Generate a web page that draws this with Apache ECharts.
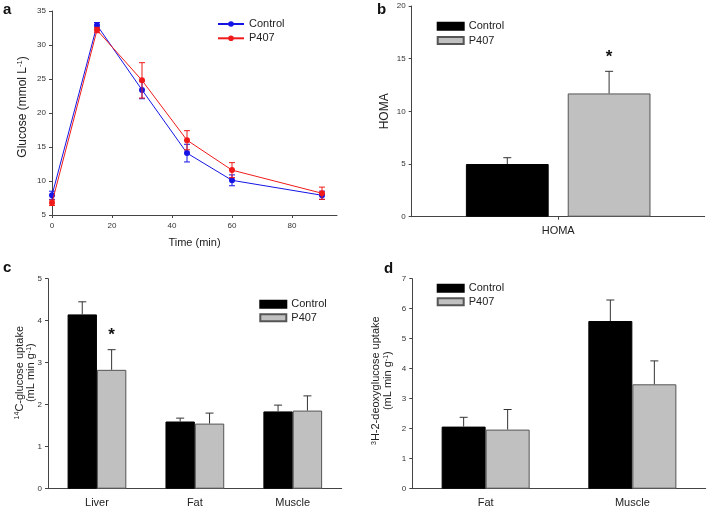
<!DOCTYPE html>
<html><head><meta charset="utf-8">
<script src="https://cdn.jsdelivr.net/npm/echarts@6/dist/echarts.min.js"></script>
<style>body{margin:0;background:#fff;overflow:hidden}.p{position:absolute}</style>
</head><body>
<div id="pa" class="p" style="left:0;top:0;width:354px;height:256px"></div>
<div id="pb" class="p" style="left:354px;top:0;width:355px;height:256px"></div>
<div id="pc" class="p" style="left:0;top:256px;width:354px;height:256px"></div>
<div id="pd" class="p" style="left:354px;top:256px;width:355px;height:256px"></div>
<script>
// ---- data ----
const timePoints = [0, 15, 30, 45, 60, 90];
const timeTicks = [0, 20, 40, 60, 80];
const glucoseControl = [7.9, 32.9, 23.4, 14.1, 10.1, 7.9];
const glucoseControlErr = [0.6, 0.4, 1.3, 1.3, 0.8, 0.6];
const glucoseP407 = [6.8, 32.2, 24.8, 16.0, 11.6, 8.2];
const glucoseP407Err = [0.4, 0.4, 2.6, 1.4, 1.1, 0.9];

const homaCategories = ['HOMA'];
const homaControl = [5.0];
const homaControlErr = [0.6];
const homaP407 = [11.7];
const homaP407Err = [2.1];
const homaStar = [true];

const c14Categories = ['Liver', 'Fat', 'Muscle'];
const c14Control = [4.15, 1.6, 1.84];
const c14ControlErr = [0.30, 0.08, 0.15];
const c14P407 = [2.83, 1.55, 1.86];
const c14P407Err = [0.48, 0.25, 0.35];
const c14Star = [true, false, false];

const dgCategories = ['Fat', 'Muscle'];
const dgControl = [2.07, 5.59];
const dgControlErr = [0.31, 0.70];
const dgP407 = [1.97, 3.48];
const dgP407Err = [0.67, 0.78];

// ---- styles ----
const FONT = 'Liberation Sans, Arial, Helvetica, sans-serif';
const AX = '#444';
const TXT = '#222';
const BLUE = '#1414e6';
const RED = '#f01a1a';
const GREY = '#c0c0c0';

function valueAxisBase() {
  return {
    axisLine: {show: true, lineStyle: {color: AX, width: 1}},
    axisTick: {show: true, length: 3, lineStyle: {color: AX}},
    axisLabel: {fontSize: 8, color: '#333', margin: 6, fontFamily: FONT},
    splitLine: {show: false},
    nameMoveOverlap: false
  };
}
function letter(t, x, y) {
  return [{type: 'text', left: x, top: y, style: {text: t, font: 'bold 15px ' + FONT, fill: '#111'}}];
}

// ---- panel a ----
function xyErr(xs, ys, es, color) {
  return {
    type: 'custom', silent: true, z: 3,
    data: xs.map((x, i) => [x, ys[i] - es[i], ys[i] + es[i]]),
    encode: {x: 0, y: [1, 2]},
    renderItem: function (params, api) {
      const lo = api.coord([api.value(0), api.value(1)]);
      const hi = api.coord([api.value(0), api.value(2)]);
      const h = 3;
      const st = {stroke: color, lineWidth: 1};
      return {type: 'group', children: [
        {type: 'line', shape: {x1: lo[0], y1: lo[1], x2: hi[0], y2: hi[1]}, style: st},
        {type: 'line', shape: {x1: lo[0] - h, y1: lo[1], x2: lo[0] + h, y2: lo[1]}, style: st},
        {type: 'line', shape: {x1: hi[0] - h, y1: hi[1], x2: hi[0] + h, y2: hi[1]}, style: st}
      ]};
    }
  };
}
const chartA = echarts.init(document.getElementById('pa'));
const yA = valueAxisBase();
const xA = valueAxisBase();
chartA.setOption({
  animation: false,
  textStyle: {fontFamily: FONT},
  graphic: letter('a', 3, 2),
  grid: {left: 52, top: 11, width: 285, height: 204},
  legend: {
    orient: 'vertical', left: 217, top: 17.5, padding: 0, itemWidth: 26, itemHeight: 7, itemGap: 1.3,
    textStyle: {fontSize: 11, color: TXT, lineHeight: 13, fontFamily: FONT},
    data: ['Control', 'P407']
  },
  xAxis: Object.assign(xA, {
    type: 'value', min: 0, max: 95,
    axisTick: {show: true, length: 3, lineStyle: {color: AX}, customValues: timeTicks},
    axisLabel: Object.assign(xA.axisLabel, {customValues: timeTicks, margin: 7}),
    name: 'Time (min)', nameLocation: 'middle', nameGap: 22,
    nameTextStyle: {fontSize: 11, color: TXT, fontFamily: FONT}
  }),
  yAxis: Object.assign(yA, {
    type: 'value', min: 5, max: 35, interval: 5,
    name: 'Glucose (mmol L{sup|-1})', nameLocation: 'middle', nameGap: 23,
    nameTextStyle: {fontSize: 12, color: TXT, fontFamily: FONT, lineHeight: 13, padding: [0, 0, 0, 12],
      rich: {sup: {fontSize: 7.5, verticalAlign: 'top', lineHeight: 13, color: TXT, fontFamily: FONT}}}
  }),
  series: [
    {type: 'line', name: 'Control', data: timePoints.map((t, i) => [t, glucoseControl[i]]),
      symbol: 'circle', symbolSize: 6, lineStyle: {width: 1, color: BLUE}, itemStyle: {color: BLUE}, z: 2},
    xyErr(timePoints, glucoseControl, glucoseControlErr, BLUE),
    {type: 'line', name: 'P407', data: timePoints.map((t, i) => [t, glucoseP407[i]]),
      symbol: 'circle', symbolSize: 6, lineStyle: {width: 1, color: RED}, itemStyle: {color: RED}, z: 4},
    xyErr(timePoints, glucoseP407, glucoseP407Err, RED)
  ]
});

// ---- bar panels ----
function barErr(vals, errs, stars, offsetFn) {
  return {
    type: 'custom', silent: true, z: 5,
    data: vals.map((v, i) => [i, v, v + errs[i], stars ? (stars[i] ? 1 : 0) : 0]),
    encode: {x: 0, y: [1, 2]},
    renderItem: function (params, api) {
      const band = api.size([1, 0])[0];
      const off = offsetFn(band);
      const b = api.coord([api.value(0), api.value(1)]);
      const t = api.coord([api.value(0), api.value(2)]);
      const x = b[0] + off;
      const st = {stroke: '#333', lineWidth: 1};
      const ch = [
        {type: 'line', shape: {x1: x, y1: b[1], x2: x, y2: t[1]}, style: st},
        {type: 'line', shape: {x1: x - 4, y1: t[1], x2: x + 4, y2: t[1]}, style: st}
      ];
      if (api.value(3)) {
        ch.push({type: 'text', x: x, y: t[1] - 14, style: {text: '*', font: 'bold 17px ' + FONT,
          fill: '#111', align: 'center', verticalAlign: 'middle'}});
      }
      return {type: 'group', children: ch};
    }
  };
}
function barChart(el, opt) {
  const ch = echarts.init(document.getElementById(el));
  const y = valueAxisBase();
  const o = {
    animation: false,
    textStyle: {fontFamily: FONT},
    graphic: letter(opt.letter, opt.lx, opt.ly),
    grid: opt.grid,
    legend: {
      orient: 'vertical', left: opt.legLeft, top: opt.legTop, padding: 0, itemWidth: 26, itemHeight: 7, itemGap: opt.legGap,
      icon: 'rect',
      textStyle: {fontSize: 11, color: TXT, lineHeight: 13, fontFamily: FONT},
      data: ['Control', 'P407']
    },
    xAxis: {
      type: 'category', data: opt.cats,
      axisLine: {show: true, lineStyle: {color: AX}},
      axisTick: {show: opt.catTick, alignWithLabel: true, length: 3, lineStyle: {color: AX}},
      axisLabel: {fontSize: 11, color: TXT, margin: 9, fontFamily: FONT}
    },
    yAxis: Object.assign(y, {
      type: 'value', min: 0, max: opt.ymax, interval: opt.yint,
      name: opt.yname, nameLocation: 'middle', nameGap: opt.nameGap,
      nameTextStyle: {fontSize: opt.nameSize, color: TXT, fontFamily: FONT, lineHeight: opt.nameLH,
        padding: opt.namePad,
        rich: {sup: {fontSize: 7, verticalAlign: 'top', lineHeight: opt.nameLH, color: TXT, fontFamily: FONT}}}
    }),
    series: [
      {type: 'bar', name: 'Control', data: opt.ctrl, barGap: opt.barGap, barCategoryGap: opt.catGap,
        itemStyle: {color: '#000', borderColor: '#000', borderWidth: 1}},
      {type: 'bar', name: 'P407', data: opt.p407, barGap: opt.barGap, barCategoryGap: opt.catGap,
        itemStyle: {color: GREY, borderColor: '#555', borderWidth: 1}},
      barErr(opt.ctrl, opt.ctrlErr, null, opt.offC),
      barErr(opt.p407, opt.p407Err, opt.stars, opt.offP)
    ]
  };
  ch.setOption(o);
  return ch;
}

// b: barGap 23%, category gap 37%
const gB = 0.23, cgB = 0.37;
barChart('pb', {
  letter: 'b', lx: 23, ly: 2,
  grid: {left: 57.7, top: 6, width: 293, height: 210.7},
  legLeft: 82.7, legTop: 19.8, legGap: 1.3,
  cats: homaCategories, catTick: true,
  ymax: 20, yint: 5, yname: 'HOMA', nameGap: 21, nameLH: 13, nameSize: 12, namePad: 0,
  ctrl: homaControl, ctrlErr: homaControlErr, p407: homaP407, p407Err: homaP407Err, stars: homaStar,
  barGap: '23%', catGap: '37%',
  offC: band => { const w = band * (1 - cgB) / (2 + gB); return -w * (1 + gB) / 2; },
  offP: band => { const w = band * (1 - cgB) / (2 + gB); return w * (1 + gB) / 2; }
});

barChart('pc', {
  letter: 'c', lx: 3, ly: 4,
  grid: {left: 48, top: 22.7, width: 293.7, height: 210},
  legLeft: 259.3, legTop: 41.8, legGap: 0.4,
  cats: c14Categories, catTick: false,
  ymax: 5, yint: 1, yname: '{sup|14}C-glucose uptake\n(mL min g{sup|-1})', nameGap: 11, nameLH: 11.5, nameSize: 11,
  namePad: [0, 0, 0, 22],
  ctrl: c14Control, ctrlErr: c14ControlErr, p407: c14P407, p407Err: c14P407Err, stars: c14Star,
  barGap: '0%', catGap: '40%',
  offC: band => -band * 0.6 / 4,
  offP: band => band * 0.6 / 4
});

barChart('pd', {
  letter: 'd', lx: 30, ly: 5,
  grid: {left: 58.3, top: 22.7, width: 293.4, height: 210},
  legLeft: 82.7, legTop: 25.8, legGap: 0.4,
  cats: dgCategories, catTick: false,
  ymax: 7, yint: 1, yname: '{sup|3}H-2-deoxyglucose uptake\n(mL min g{sup|-1})', nameGap: 18, nameLH: 12, nameSize: 11,
  namePad: [0, 0, 0, 6],
  ctrl: dgControl, ctrlErr: dgControlErr, p407: dgP407, p407Err: dgP407Err, stars: null,
  barGap: '0%', catGap: '40%',
  offC: band => -band * 0.6 / 4,
  offP: band => band * 0.6 / 4
});
</script>
</body></html>
